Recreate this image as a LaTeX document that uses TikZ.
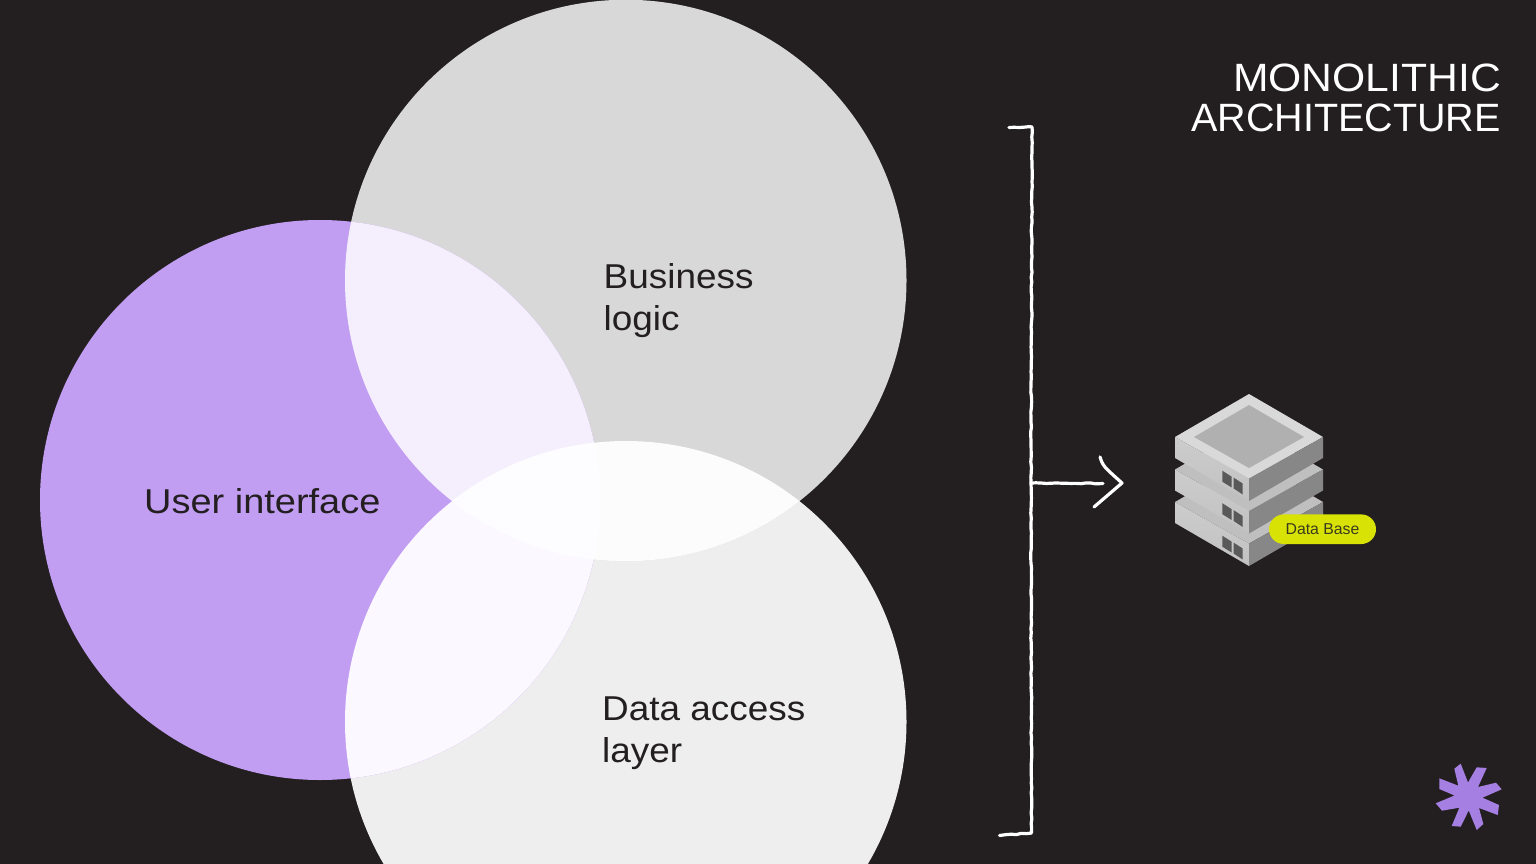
\documentclass[tikz,border=0pt]{standalone}
\usepackage{fontspec}
\setmainfont{Liberation Sans}
\newfontfamily\lblfont[FakeStretch=1.07]{Liberation Sans}
\newfontfamily\lblwide[FakeStretch=1.10]{Liberation Sans}
\newfontfamily\ttlwide[FakeStretch=1.08]{Liberation Sans}
\usetikzlibrary{calc,decorations.pathmorphing}
\definecolor{bgc}{HTML}{231F20}
\definecolor{purp}{HTML}{C29EF3}
\definecolor{graya}{HTML}{D8D8D8}
\definecolor{grayb}{HTML}{EEEEEE}
\definecolor{ixa}{HTML}{F5EFFD}
\definecolor{ixb}{HTML}{FBF8FF}
\definecolor{ixc}{HTML}{FCFCFC}
\definecolor{ixd}{HTML}{FDFCFF}
\definecolor{pill}{HTML}{D9E205}
\definecolor{pilltext}{HTML}{3A3A20}
\definecolor{star}{HTML}{A67FE2}
\tikzset{
  lbl/.style={font=\lblfont\fontsize{34.5}{42}\selectfont, text=bgc, align=left, anchor=west, inner sep=0pt},
  ttl/.style={font=\fontsize{39.5}{39.5}\selectfont, text=white, align=right, anchor=east, inner sep=0pt},
  chalk/.style={draw=white, line width=3.2pt, line cap=round, line join=round},
  rough/.style={decorate, decoration={random steps, segment length=5pt, amplitude=0.45pt}},
  leftface/.style={left color=black!20!white, right color=black!24!white, shading angle=0},
  rightface/.style={fill=black!47!white},
  win/.style={fill=black!65!white}
}
\newcommand{\slab}[2]{%
  \begin{scope}[yshift=-#1pt]
    \fill[fill=#2] (1249,394) -- (1323,437) -- (1249,478.5) -- (1175,437) -- cycle;
    \shade[leftface] (1175,437) -- (1249,478.5) -- (1249,501) -- (1175,458) -- cycle;
    \fill[rightface] (1323,437) -- (1249,478.5) -- (1249,501) -- (1323,458) -- cycle;
    \fill[win] (1222.3,470.7) -- (1231.7,476.7) -- (1231.7,487.5) -- (1222.3,481.7) -- cycle;
    \fill[win] (1233.7,477.7) -- (1242.7,483.5) -- (1242.7,494.5) -- (1233.7,488.5) -- cycle;
  \end{scope}}
\begin{document}
\begin{tikzpicture}[x=1pt,y=-1pt]
\pgfmathsetseed{7}
\useasboundingbox (0,0) rectangle (1536,864);
\fill[bgc] (0,0) rectangle (1536,864);
\begin{scope}
\clip (0,0) rectangle (1536,864);
\fill[grayb] (625.75,721.75) circle[radius=280.75pt];
\fill[graya] (625.75,280.5) circle[radius=280.75pt];
\fill[purp] (320,500) circle[radius=280pt];
\begin{scope}\clip (320,500) circle[radius=280pt]; \fill[ixa] (625.75,280.5) circle[radius=280.75pt]; \end{scope}
\begin{scope}\clip (320,500) circle[radius=280pt]; \fill[ixb] (625.75,721.75) circle[radius=280.75pt]; \end{scope}
\begin{scope}\clip (625.75,280.5) circle[radius=280.75pt]; \fill[ixc] (625.75,721.75) circle[radius=280.75pt]; \end{scope}
\begin{scope}\clip (625.75,280.5) circle[radius=280.75pt]; \clip (625.75,721.75) circle[radius=280.75pt]; \fill[ixd] (320,500) circle[radius=280pt]; \end{scope}
\end{scope}
\node[lbl, font=\lblwide\fontsize{34.5}{42}\selectfont] (ui) at (144,501) {User interface};
\node[lbl] (bl) at (603.5,301) {Business\\logic};
\node[lbl] (da) at (602,733) {Data access\\layer};
\node[ttl] (title) at (1501,98) {{\ttlwide MONOLITHIC}\\ARCHITECTURE};
% bracket
\coordinate (bt) at (1009,127.5);
\coordinate (bc) at (1032,127);
\coordinate (bm) at (1031,483);
\coordinate (be) at (1031.5,833);
\coordinate (bb) at (999.5,835.5);
\coordinate (at) at (1103,483.5);
\coordinate (ha) at (1100,457);
\coordinate (hb) at (1122,483);
\coordinate (hc) at (1094,507);
\draw[chalk, rough] (bt) -- (bc) -- (bm) -- (be) -- (bb);
\draw[chalk, rough] (bm) -- (at);
\draw[chalk] (ha) .. controls (1103,466) .. (hb) -- (hc);
% server
\slab{65}{black!25!white}
\slab{32.5}{black!25!white}
\slab{0}{black!15!white}
\fill[black!31!white] (1249,405) -- (1304,437) -- (1249,468) -- (1194,437) -- cycle;
\node[fill=pill, rounded corners=14.8pt, minimum width=107pt, minimum height=29.6pt, inner sep=0pt, font=\fontsize{15.8}{18}\selectfont, text=pilltext] (db) at (1322.5,529.2) {Data Base};
% asterisk
\fill[star] (1454.3,768.7) -- (1460.7,763.7) -- (1468,782.5) -- (1476.7,767.3) -- (1486.7,768) -- (1478,787) -- (1496,782.7) -- (1501.7,789.3) -- (1482.5,797.7) -- (1499,805) -- (1497.7,815) -- (1479,808) -- (1483.3,824) -- (1476.7,830) -- (1468.7,810.5) -- (1460.7,826.7) -- (1451.7,826) -- (1459.3,807.7) -- (1442,810.7) -- (1435.7,803.3) -- (1454.5,795.5) -- (1439.3,789) -- (1439.3,778.3) -- (1458.3,785.7) -- cycle;
\end{tikzpicture}
\end{document}
